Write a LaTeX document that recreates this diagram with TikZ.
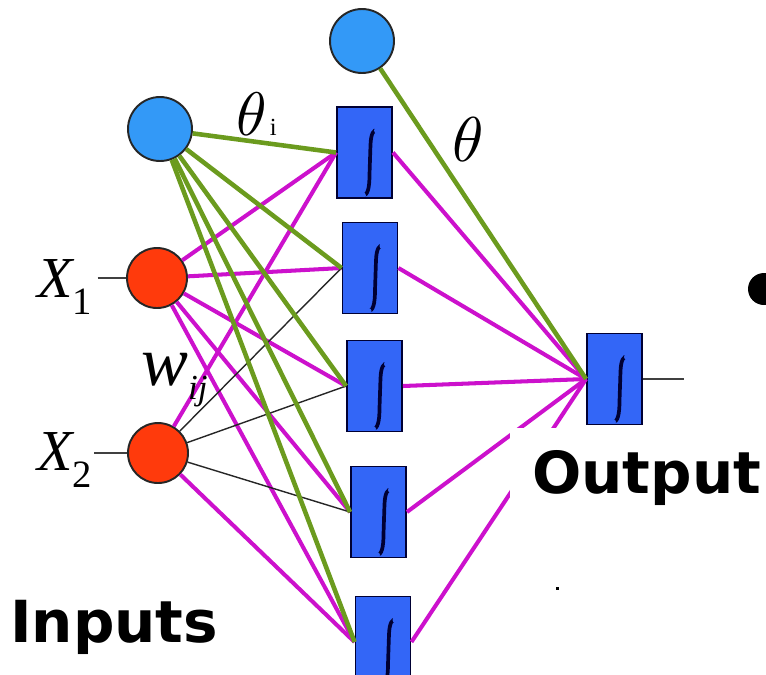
\documentclass[tikz,border=0pt]{standalone}
\usepackage{fontspec}
\setmainfont{Liberation Serif}
\newfontfamily\headfont{DejaVu Sans}
\usetikzlibrary{calc}

\definecolor{biasblue}{HTML}{3399F7}
\definecolor{inred}{HTML}{FF3A0C}
\definecolor{unitblue}{HTML}{3366F7}
\definecolor{wmag}{HTML}{CC11CC}
\definecolor{thgreen}{HTML}{6B9B1E}

% the integral mark inside a unit
\newcommand\squashmark{%
  \draw[line width=2.1pt, line cap=round]
    ([shift={(-1.5,43)}]path picture bounding box.center)
    .. controls ([shift={(3,43)}]path picture bounding box.center)
       and ([shift={(5,36)}]path picture bounding box.center)
    .. ([shift={(5,22)}]path picture bounding box.center)
    -- ([shift={(6,-8)}]path picture bounding box.center)
    .. controls ([shift={(6.5,-19)}]path picture bounding box.center)
       and ([shift={(9,-23)}]path picture bounding box.center)
    .. ([shift={(12.5,-22)}]path picture bounding box.center);
  \fill ([shift={(12.5,-22)}]path picture bounding box.center) circle (3);
  \fill ([shift={(-1.5,43)}]path picture bounding box.center) circle (3);
}

\begin{document}
\begin{tikzpicture}[x=0.02cm, y=-0.02cm,
	bias/.style={circle, draw=black!85, line width=1.1pt, fill=biasblue, minimum size=1.28cm, inner sep=0pt},
	input/.style={circle, draw=black!85, line width=1.1pt, fill=inred, minimum size=1.2cm, inner sep=0pt},
	unit/.style={rectangle, draw=black!80!blue, line width=1.1pt, fill=unitblue, minimum width=1.1cm, minimum height=1.82cm, inner sep=0pt, path picture={\squashmark}},
	wire/.style={wmag, line width=2.3pt},
	theta/.style={thgreen, line width=2.6pt},
	thin/.style={black!85, line width=0.8pt},
	stub/.style={black!75, line width=1.1pt},
	lbl/.style={inner sep=0pt},
	head/.style={inner sep=0pt, font=\headfont\bfseries\fontsize{33}{33}\selectfont}
	]
	
	\useasboundingbox (0,0) rectangle (766,674);
	
	% bias units and inputs
	\node[bias] (ob) at (362,41) {};
	\node[bias] (hb) at (160,129) {};
	\node[input] (x1) at (157,278) {};
	\node[input] (x2) at (158,453) {};
	
	% hidden layer and output unit
	\foreach \i/\x/\y in {1/364.5/152.5, 2/370/268, 3/374.5/386, 4/378.5/512, 5/383/642}
		\node[unit] (h\i) at (\x,\y) {};
	\node[unit] (out) at (614.5,379) {};
	
	% weights
	\foreach \i in {1,...,5} {
		\draw[wire] (x1) -- (h\i.west);
		\draw[wire] (h\i.east) -- (out.west);
	}
	\draw[wire] (x2) -- (h1.west);
	\draw[wire] (x2) -- (h5.west);
	\foreach \i in {2,3,4}
		\draw[thin] (x2) -- (h\i.west);
	
	% thresholds
	\foreach \i in {1,...,5}
		\draw[theta] (hb) -- (h\i.west);
	\draw[theta] (ob) -- (out.west);
	
	% labels
	\node[lbl, anchor=base west] (x1lbl) at (37,297) {\fontsize{33}{33}\selectfont\itshape X\raisebox{-10pt}{\fontsize{22}{22}\selectfont\upshape 1}};
	\node[lbl, anchor=base west] (x2lbl) at (37,470) {\fontsize{33}{33}\selectfont\itshape X\raisebox{-10pt}{\fontsize{22}{22}\selectfont\upshape 2}};
	\draw[stub] ([xshift=3pt]x1lbl.east |- x1) -- (x1);
	\draw[stub] ([xshift=1pt]x2lbl.east |- x2) -- (x2);
	\draw[stub] (out.east) -- ++(41,0) coordinate (y);
	
	\node[lbl, anchor=base west] (thi) at (236,135) {\scalebox{3.5}{$\theta$}\,{\fontsize{14}{14}\selectfont i}};
	\node[lbl] (tho) at (468,140) {\scalebox{3.6}{$\theta$}};
	\node[lbl, anchor=base west] (wij) at (141,385) {\fontsize{40}{40}\selectfont\itshape w\raisebox{-8.5pt}{\fontsize{20}{20}\selectfont ij}};
	
	% captions
	\node[fill=white, anchor=north west, minimum width=5.12cm, minimum height=4.92cm, inner sep=0pt] (outpanel) at (510,428) {};
	\node[head, anchor=base west] (outlbl) at (532,493) {Output};
	\node[head, anchor=base west] (inlbl) at (10,642) {Inputs};
	
	\fill (764,289) circle (16);
	\fill (556,587) rectangle (559,590);
	
\end{tikzpicture}
\end{document}
